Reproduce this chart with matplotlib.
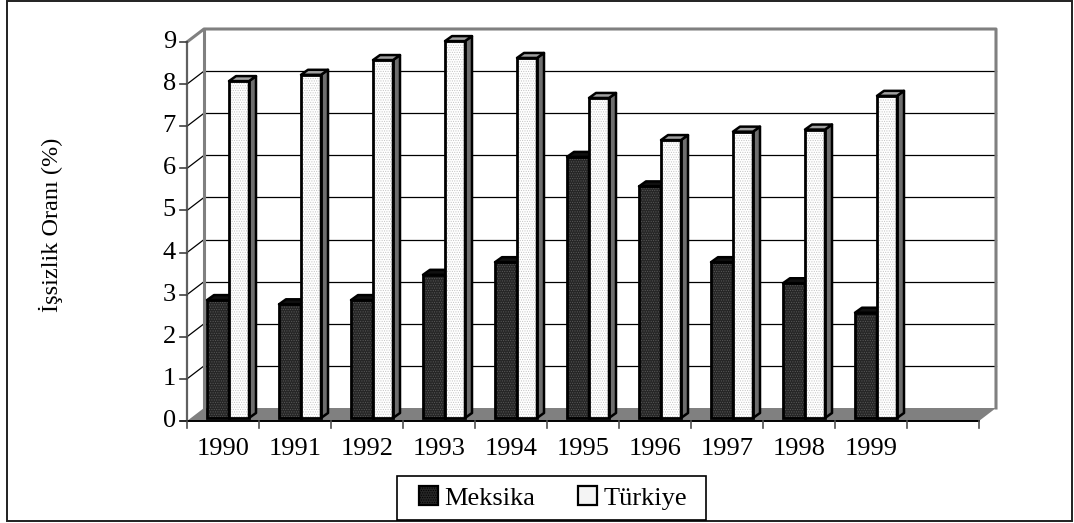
import numpy as np
import matplotlib
matplotlib.use("Agg")
import matplotlib.pyplot as plt
from matplotlib.patches import Polygon, Rectangle, Patch

plt.rcParams['font.family'] = ['Liberation Serif', 'DejaVu Serif']
plt.rcParams['hatch.linewidth'] = 0.5

years = ['1990', '1991', '1992', '1993', '1994', '1995', '1996', '1997', '1998', '1999']
meksika = [2.8, 2.7, 2.8, 3.4, 3.7, 6.2, 5.5, 3.7, 3.2, 2.5]
turkiye = [8.0, 8.15, 8.5, 8.95, 8.55, 7.6, 6.6, 6.8, 6.85, 7.65]
yticks = list(range(10))

W, H = 1074, 523
fig = plt.figure(figsize=(W / 100, H / 100), dpi=100, facecolor='white')
L, R, B, T = 187, 979, 421, 42
ax = fig.add_axes([L / W, 1 - B / H, (R - L) / W, (B - T) / H])
ncat = 11
ax.set_xlim(0, ncat)
ax.set_ylim(0, 9)
ax.axis('off')

ux = (R - L) / ncat      # px per category
uy = (B - T) / 9         # px per unit
wall_dx, wall_dy = 17 / ux, 13 / uy
bar_dx, bar_dy = 7 / ux, 5 / uy
base = 3 / uy
start, w1, w2 = 20 / ux, 22 / ux, 20 / ux
GREY = '#808080'


def poly(pts, **kw):
    kw.setdefault('clip_on', False)
    p = Polygon(pts, closed=True, **kw)
    ax.add_patch(p)
    return p


def line(xs, ys, **kw):
    ax.plot(xs, ys, clip_on=False, solid_capstyle='projecting', **kw)


# floor
poly([(0, 0), (ncat, 0), (ncat + wall_dx, wall_dy), (wall_dx, wall_dy)], fc=GREY, ec='none', zorder=1)
# gridlines on the wall + side diagonals
for v in yticks[1:-1]:
    line([wall_dx, ncat + wall_dx], [v + wall_dy, v + wall_dy], color='black', lw=0.9, zorder=1)
    line([0, wall_dx], [v, v + wall_dy], color='black', lw=0.9, zorder=1)
# wall frame
top = 9 + wall_dy
line([0, wall_dx, ncat + wall_dx, ncat + wall_dx], [9, top, top, wall_dy], color=GREY, lw=2.2, zorder=2)
line([wall_dx, wall_dx], [wall_dy, top], color=GREY, lw=2.2, zorder=2)
# front axes
line([0, 0], [0, 9], color='#606060', lw=1.6, zorder=2)
line([0, ncat], [0, 0], color='black', lw=1.4, zorder=2)
for v in yticks:
    line([-7 / ux, 0], [v, v], color='black' if v == 0 else '#404040', lw=1.2, zorder=2)
    ax.text(-11 / ux, v, str(v), ha='right', va='center', fontsize=19, color='black')
for i in range(ncat + 1):
    line([i, i], [0, -7 / uy], color='#505050', lw=1.2, zorder=2)
for i, y in enumerate(years):
    ax.text(i + 0.5, -28 / uy, y, ha='center', va='center', fontsize=19, color='black')


def bar3d(x0, width, v, face, hatch_col, side, topc, zo):
    ax.bar(x0, v, width, bottom=base, align='edge', color=face, edgecolor=hatch_col,
           hatch='.......', lw=0, zorder=zo, clip_on=False)
    ax.bar(x0, v, width, bottom=base, align='edge', fill=False, edgecolor='black',
           lw=2.0, zorder=zo + 0.3, clip_on=False)
    t = base + v
    x1 = x0 + width
    poly([(x1, base), (x1 + bar_dx, base + bar_dy), (x1 + bar_dx, t + bar_dy), (x1, t)],
         fc=side, ec='black', lw=1.8, zorder=zo + 0.1, joinstyle='round')
    poly([(x0, t), (x1, t), (x1 + bar_dx, t + bar_dy), (x0 + bar_dx, t + bar_dy)],
         fc=topc, ec='black', lw=1.8, zorder=zo + 0.2, joinstyle='round')


for i in range(len(years)):
    z = 3 + i
    bar3d(i + start, w1, meksika[i], '#262626', '#585858', '#101010', '#101010', z)
    bar3d(i + start + w1, w2, turkiye[i], '#ffffff', '#c4c4c4', '#6e6e6e', '#a0a0a0', z + 0.5)

ax.text(-136 / ux, 4.65, 'İşsizlik Oranı (%)', rotation=90, ha='center', va='center', fontsize=17.5, color='black')

# chart frame
fig.add_artist(Rectangle((7 / W, 1 - 520.5 / H), 1065 / W, 520 / H, transform=fig.transFigure,
                         fill=False, ec='#202020', lw=1.4))
# legend box
fig.add_artist(Rectangle((397 / W, 1 - 520 / H), 309 / W, 44 / H, transform=fig.transFigure,
                         fc='white', ec='black', lw=1.2, zorder=8))

# legend
handles = [Patch(fc='#262626', ec='black', lw=1.6, hatch='.......'),
           Patch(fc='#f4f4f4', ec='black', lw=1.6)]
leg = fig.legend(handles, ['Meksika', 'Türkiye'], ncol=2, loc='center',
                 bbox_to_anchor=(553 / W, 1 - 498 / H), fontsize=19, frameon=False,
                 handlelength=0.72, handleheight=0.72,
                 handletextpad=0.22, columnspacing=1.65, borderpad=0.2, borderaxespad=0)
leg.set_zorder(9)

fig.savefig('out.png', dpi=100)
